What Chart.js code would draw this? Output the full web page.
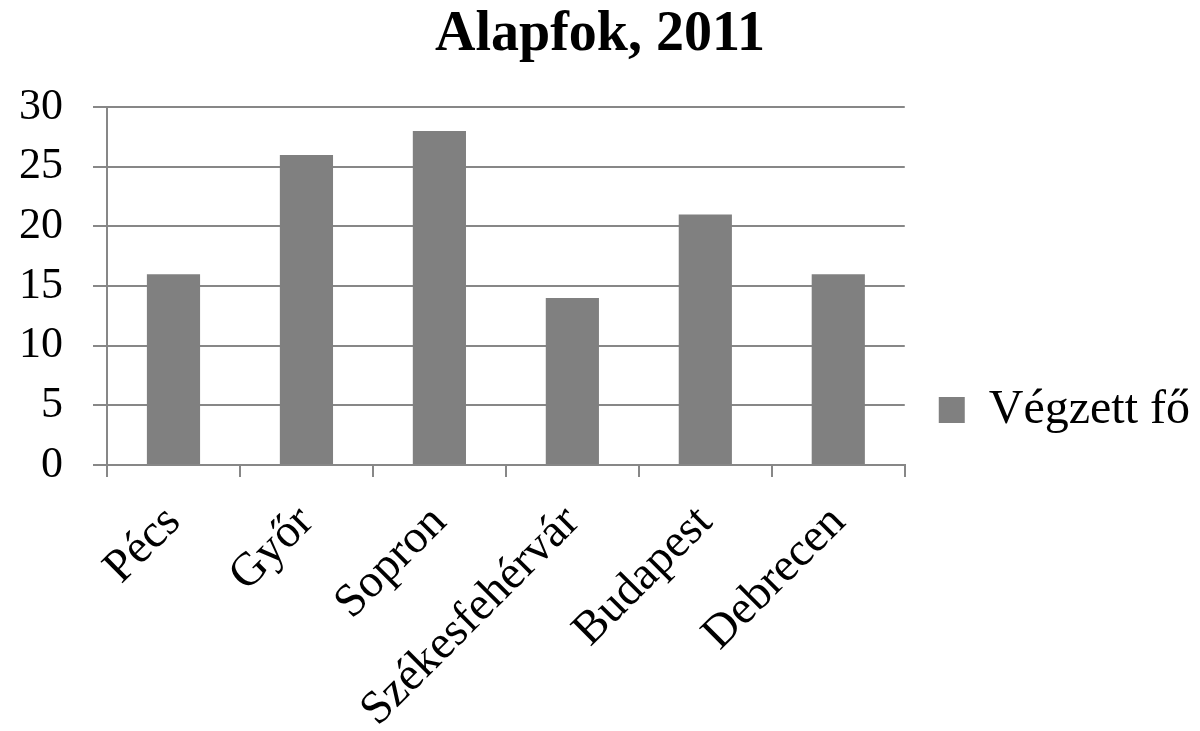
<!DOCTYPE html>
<html>
<head>
<meta charset="utf-8">
<script src="https://cdn.jsdelivr.net/npm/chart.js@4.4.1/dist/chart.umd.min.js"></script>
<style>
  html, body { margin: 0; padding: 0; background: #fff; }
  #wrap { width: 1200px; height: 731px; }
</style>
</head>
<body>
<div id="wrap"><canvas id="chart"></canvas></div>
<script>
const cities = ['Pécs', 'Győr', 'Sopron', 'Székesfehérvár', 'Budapest', 'Debrecen'];
const graduates = [16, 26, 28, 14, 21, 16];
const seriesName = 'Végzett fő';
const chartTitle = 'Alapfok, 2011';

const serif = 'Liberation Serif, Times New Roman, serif';
const gridColor = '#878787';

new Chart(document.getElementById('chart'), {
  type: 'bar',
  data: {
    labels: cities,
    datasets: [
      {
        label: seriesName,
        data: graduates,
        backgroundColor: '#808080',
        borderWidth: 0,
        barPercentage: 0.4,
        categoryPercentage: 1
      }
    ]
  },
  options: {
    responsive: true,
    maintainAspectRatio: false,
    animation: false,
    layout: { padding: 0 },
    scales: {
      x: {
        afterFit: (scale) => { scale.height = 266; },
        grid: {
          offset: true,
          drawOnChartArea: false,
          drawTicks: true,
          tickLength: 12,
          color: gridColor,
          lineWidth: 2
        },
        border: { color: gridColor, width: 2 },
        ticks: {
          color: '#000',
          font: { family: serif, size: 47 },
          minRotation: 45,
          maxRotation: 45,
          padding: 18
        }
      },
      y: {
        min: 0,
        max: 30,
        afterFit: (scale) => { scale.width = 107; },
        grid: {
          color: gridColor,
          lineWidth: 2,
          tickLength: 14
        },
        border: { color: gridColor, width: 2 },
        ticks: {
          stepSize: 5,
          color: '#000',
          font: { family: serif, size: 44 },
          padding: 30
        }
      }
    },
    plugins: {
      title: {
        display: true,
        text: chartTitle,
        color: '#000',
        font: { family: serif, size: 56, weight: 'bold' },
        padding: { top: 2, bottom: 38 }
      },
      legend: {
        position: 'right',
        // empty legend title only pushes the entry down to where it sits in the original
        title: { display: true, text: '', font: { size: 10 }, padding: { top: 77, bottom: 0 } },
        labels: {
          color: '#000',
          font: { family: serif, size: 48 },
          boxWidth: 26,
          boxHeight: 26,
          padding: 34
        }
      },
      tooltip: { enabled: false }
    }
  }
});
</script>
</body>
</html>
